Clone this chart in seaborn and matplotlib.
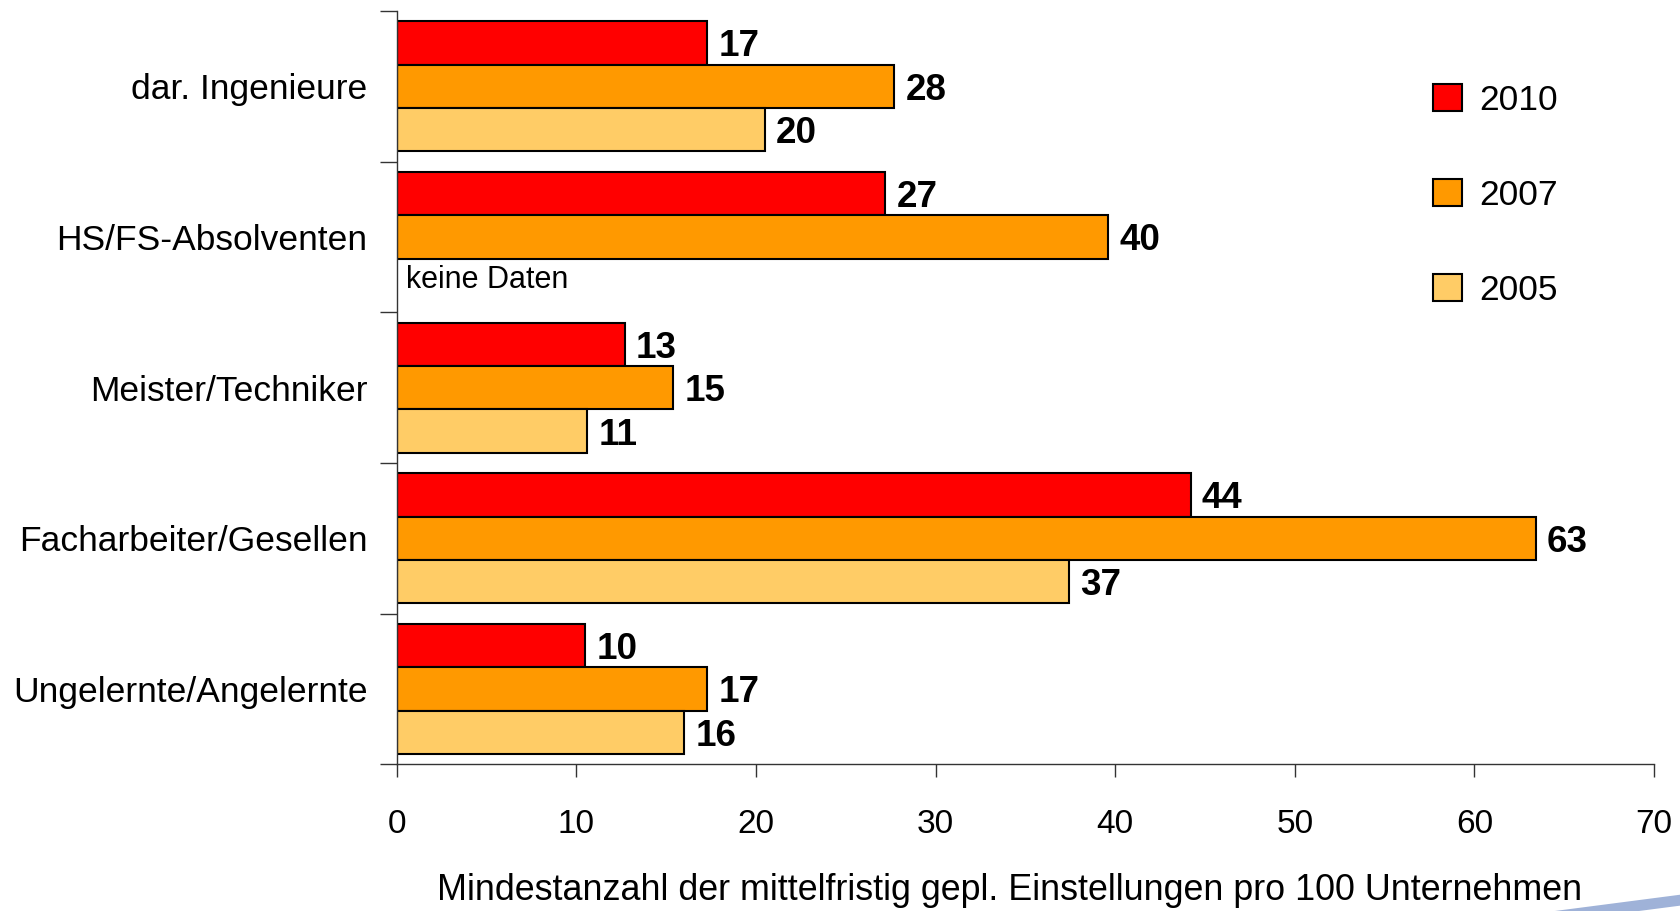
import matplotlib
matplotlib.use('Agg')
import matplotlib.pyplot as plt
from matplotlib.patches import Polygon
import numpy as np
import pandas as pd
import seaborn as sns

categories = ['dar. Ingenieure', 'HS/FS-Absolventen', 'Meister/Techniker',
              'Facharbeiter/Gesellen', 'Ungelernte/Angelernte']
years = ['2010', '2007', '2005']
values_2010 = [17.3, 27.2, 12.7, 44.2, 10.5]
values_2007 = [27.7, 39.6, 15.4, 63.4, 17.3]
values_2005 = [20.5, np.nan, 10.6, 37.4, 16.0]
colors = ['#ff0000', '#ff9900', '#ffcc66']
x_ticks = [0, 10, 20, 30, 40, 50, 60, 70]
x_label = 'Mindestanzahl der mittelfristig gepl. Einstellungen pro 100 Unternehmen'

df = pd.DataFrame({
    'Kategorie': categories * 3,
    'Jahr': [y for y in years for _ in categories],
    'Wert': values_2010 + values_2007 + values_2005,
})

sns.set_style('white')
plt.rcParams['font.family'] = ['Liberation Sans', 'DejaVu Sans']
plt.rcParams['text.color'] = 'black'
plt.rcParams['xtick.color'] = 'black'
plt.rcParams['ytick.color'] = 'black'
plt.rcParams['axes.labelcolor'] = 'black'

fig = plt.figure(figsize=(16.81, 9.11), dpi=100)
ax = fig.add_axes([0.236, 0.161, 0.748, 0.827])

sns.barplot(data=df, y='Kategorie', x='Wert', hue='Jahr', order=categories,
            hue_order=years, palette=colors, orient='h', width=0.864,
            edgecolor='black', linewidth=1.5, saturation=1, ax=ax)

for cont in ax.containers:
    labels = ['' if np.isnan(b.get_width()) else f'{round(b.get_width())}' for b in cont]
    texts = ax.bar_label(cont, labels=labels, padding=8, fontsize=26.5, fontweight='bold')
    for t in texts:
        t.set_va('center_baseline')

# missing value note
ax.text(0.5, 1 + 0.864 / 3, 'keine Daten', fontsize=22, va='center', ha='left')

ax.set_xlim(0, 70)
ax.set_ylim(len(categories) - 0.5, -0.5)
ax.set_xticks(x_ticks)
ax.set_xlabel(x_label, fontsize=25.8, va='center')
ax.xaxis.set_label_coords(0.487, -0.167)
ax.set_ylabel('')

ax.tick_params(axis='y', which='major', length=0, pad=21, labelsize=25.5)
ax.set_yticks(np.arange(-0.5, len(categories)), minor=True)
ax.tick_params(axis='y', which='minor', length=12, width=1, color='#333333', direction='out')
ax.tick_params(axis='x', length=9, width=1, color='#333333', direction='out', pad=23, labelsize=24)
ax.xaxis.set_ticks_position('bottom')
ax.yaxis.set_ticks_position('left')

for side in ['top', 'right']:
    ax.spines[side].set_visible(False)
for side in ['left', 'bottom']:
    ax.spines[side].set_color('#333333')
    ax.spines[side].set_linewidth(1)

leg = ax.legend(loc='upper left', bbox_to_anchor=(0.799, 0.945), frameon=False,
                fontsize=25.5, handlelength=0.8, handleheight=0.8, handletextpad=0.5,
                labelspacing=1.75)
for h in leg.legend_handles:
    h.set_edgecolor('black')
    h.set_linewidth(1.5)

# decorative swoosh bottom right
fig.patches.append(Polygon([(0.925, 0.0), (1.0, 0.018), (1.0, 0.006), (0.975, 0.0)],
                           closed=True, transform=fig.transFigure,
                           facecolor='#9fb2d8', edgecolor='none'))

fig.savefig('out.png', dpi=100)
